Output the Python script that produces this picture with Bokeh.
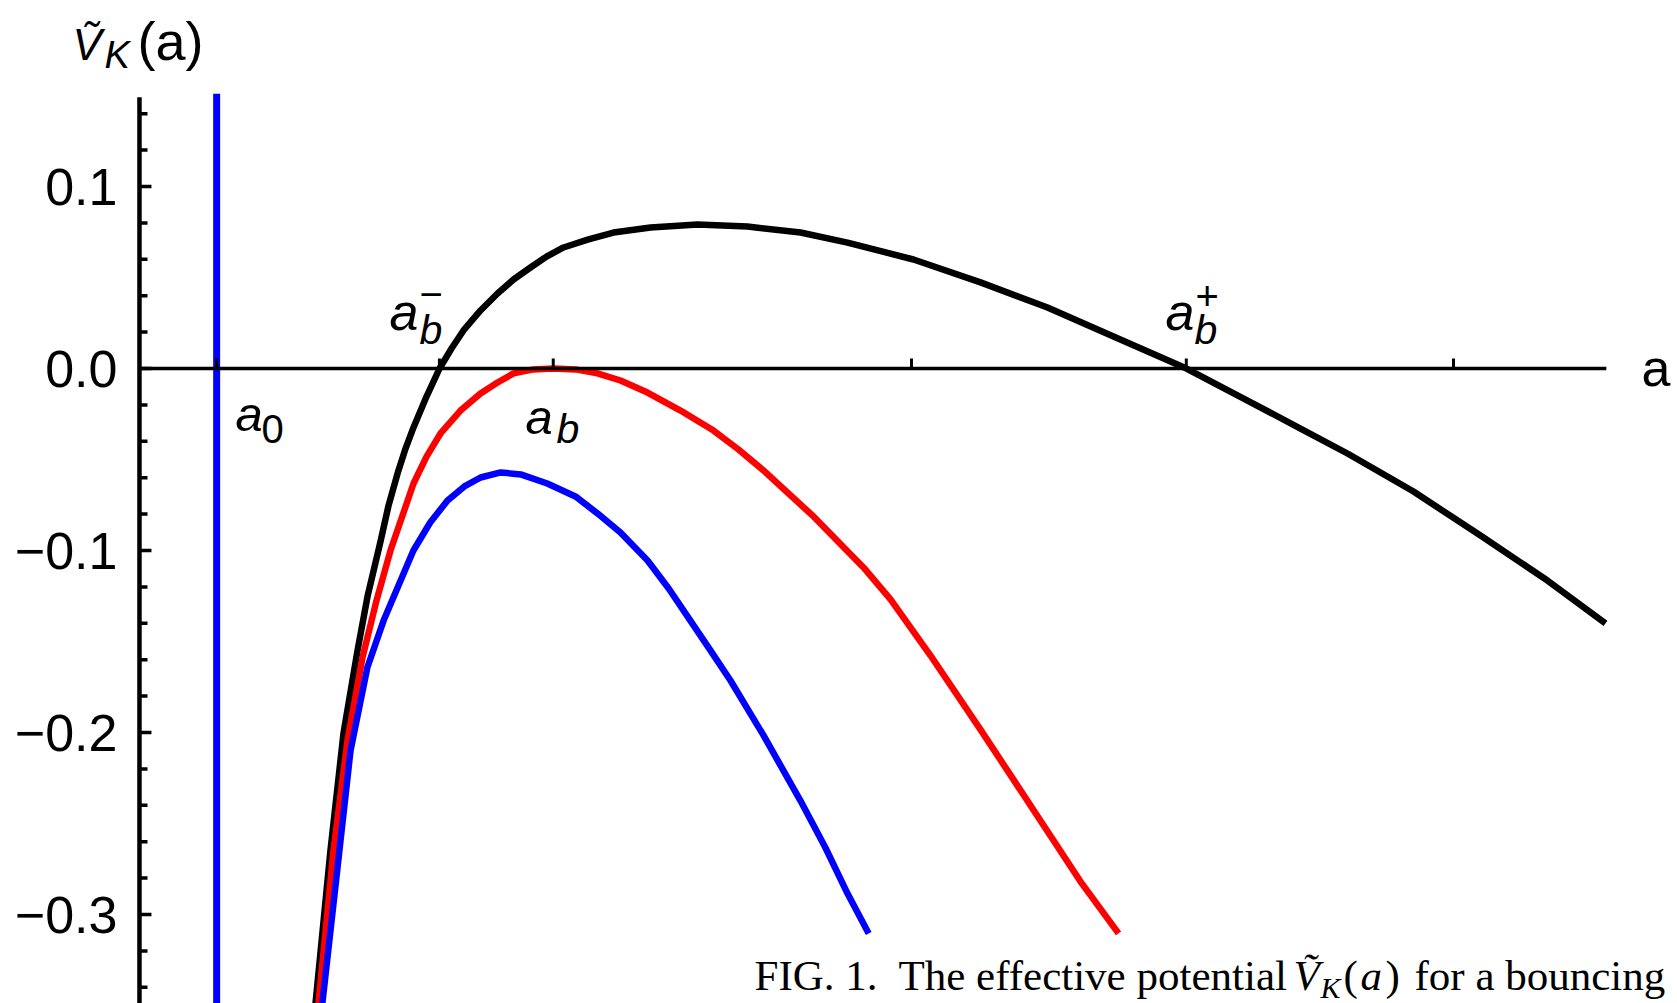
from bokeh.plotting import figure
from bokeh.models import Range1d
from bokeh.core.properties import value
from bokeh.embed import file_html
from bokeh.resources import INLINE

# ---------------- data ----------------
black_a = [0.9004, 0.9280, 0.9520, 0.9779, 0.9963, 1.0203, 1.0351, 1.0517, 1.0665, 1.0812, 1.1052, 1.1292,
           1.1513, 1.1734, 1.2048, 1.2362, 1.2657, 1.2970, 1.3266, 1.3579, 1.4041, 1.4502, 1.5185,
           1.6052, 1.6974, 1.7952, 1.8819, 2.0037, 2.1273, 2.2509, 2.3727, 2.5074, 2.6199, 2.7177,
           2.8044, 2.9262, 3.0498, 3.1734, 3.2804]
black_v = [-0.3489, -0.2648, -0.2005, -0.1549, -0.1253, -0.0951, -0.0753, -0.0577, -0.0440, -0.0324, -0.0154, 0.0,
           0.0110, 0.0209, 0.0319, 0.0412, 0.0489, 0.0555, 0.0615, 0.0665, 0.0709, 0.0747, 0.0775,
           0.0791, 0.0780, 0.0747, 0.0692, 0.0599, 0.0473, 0.0335, 0.0176, 0.0, -0.0176, -0.0330,
           -0.0467, -0.0676, -0.0918, -0.1165, -0.1401]

red_a = [0.9059, 0.9336, 0.9594, 0.9871, 1.0129, 1.0387, 1.0812, 1.1052, 1.1310, 1.1679, 1.2048,
         1.2362, 1.2657, 1.3026, 1.3395, 1.3801, 1.4207, 1.4631, 1.5129, 1.5738, 1.6347, 1.6808,
         1.7269, 1.8192, 1.9114, 1.9613, 2.0351, 2.1273, 2.2196, 2.3118, 2.3819]
red_v = [-0.3489, -0.2648, -0.2044, -0.1588, -0.1275, -0.1000, -0.0632, -0.0484, -0.0357, -0.0231, -0.0137,
         -0.0077, -0.0027, -0.0005, 0.0, -0.0005, -0.0027, -0.0066, -0.0132, -0.0231, -0.0341, -0.0445,
         -0.0560, -0.0813, -0.1093, -0.1269, -0.1577, -0.1984, -0.2401, -0.2819, -0.3104]

blue_a = [0.913, 0.941, 0.965, 0.996, 1.026, 1.081, 1.112, 1.144, 1.175, 1.205, 1.242, 1.279,
          1.328, 1.380, 1.421, 1.463, 1.513, 1.552, 1.592, 1.629, 1.666, 1.727, 1.795, 1.841,
          1.882, 1.921]
blue_v = [-0.3489, -0.2742, -0.2099, -0.1643, -0.1385, -0.1000, -0.0846, -0.0725, -0.0648, -0.0599, -0.0571, -0.0582,
          -0.0632, -0.0703, -0.0797, -0.0901, -0.1055, -0.1209, -0.1385, -0.1549, -0.1714, -0.2016, -0.2374, -0.2632,
          -0.2885, -0.3104]

a0 = 0.718
a_b_minus = 1.129
a_b = 1.339
a_b_plus = 2.507
x_tick_values = [a0, a_b_minus, a_b, 2.0, a_b_plus, 3.0]

y_major = [-0.3, -0.2, -0.1, 0.0, 0.1]
y_major_labels = ["\u22120.3", "\u22120.2", "\u22120.1", "0.0", "0.1"]
y_minor = [-0.34, -0.32, -0.28, -0.26, -0.24, -0.22, -0.18, -0.16, -0.14, -0.12,
           -0.08, -0.06, -0.04, -0.02, 0.02, 0.04, 0.06, 0.08, 0.12, 0.14]

X_START, X_END = 0.31919, 3.41328
Y_START, Y_END = -0.34890, 0.20220
Y_AXIS_X = 0.5756
Y_AXIS_TOP = 0.149
X_AXIS_END = 3.282
A0_LINE_TOP = 0.151
X_TICK_H = 0.0055
Y_MAJOR_LEN = 0.0221
Y_MINOR_LEN = 0.0148

SANS = "Liberation Sans"
SERIF = "Liberation Serif"


# pixel position of a text (left edge, baseline) -> data coordinates of this plot
def px_a(px):
    return 2 + (px - 911) / 542


def px_v(py):
    return (368 - py) / 1820


# ---------------- figure ----------------
p = figure(width=1677, height=1003,
           x_range=Range1d(X_START, X_END), y_range=Range1d(Y_START, Y_END),
           x_axis_type=None, y_axis_type=None, output_backend="svg", toolbar_location=None,
           min_border_left=0, min_border_right=0, min_border_top=0, min_border_bottom=0)
p.grid.visible = False
p.outline_line_color = None
p.background_fill_color = "white"
p.border_fill_color = "white"

# curves
p.line(black_a, black_v, line_color="black", line_width=6.5, line_join="round")
p.line(red_a, red_v, line_color="#ff0000", line_width=6.5, line_join="round")
p.line(blue_a, blue_v, line_color="#0000ff", line_width=6.5, line_join="round")
p.segment(x0=[a0], y0=[Y_START], x1=[a0], y1=[A0_LINE_TOP], line_color="#0000ff", line_width=7)

# y axis
p.segment(x0=[Y_AXIS_X], y0=[Y_START], x1=[Y_AXIS_X], y1=[Y_AXIS_TOP], line_color="black", line_width=4.5)
p.segment(x0=[Y_AXIS_X] * len(y_major), y0=y_major, x1=[Y_AXIS_X + Y_MAJOR_LEN] * len(y_major), y1=y_major,
          line_color="black", line_width=3.5)
p.segment(x0=[Y_AXIS_X] * len(y_minor), y0=y_minor, x1=[Y_AXIS_X + Y_MINOR_LEN] * len(y_minor), y1=y_minor,
          line_color="black", line_width=3.5)
p.text(x=[Y_AXIS_X] * len(y_major), y=y_major, text=y_major_labels, x_offset=-22,
       text_align="right", text_baseline="middle", text_font=value(SANS), text_font_size="52px",
       text_color="black")

# x axis drawn at V = 0
p.segment(x0=[Y_AXIS_X], y0=[0], x1=[X_AXIS_END], y1=[0], line_color="black", line_width=3.5)
p.segment(x0=x_tick_values, y0=[0] * len(x_tick_values), x1=x_tick_values,
          y1=[X_TICK_H] * len(x_tick_values), line_color="black", line_width=3)


def txt(text, px, py, size=52, style="italic", font=SANS):
    # py is the wanted baseline; texts are placed by their middle
    k = 0.347 if font == SANS else 0.338
    p.text(x=[px_a(px)], y=[px_v(py - k * size)], text=[text], text_font=value(font),
           text_font_style=style, text_font_size=f"{size}px", text_color="black",
           text_baseline="middle", text_align="left")


# tick labels on the a axis
txt("a", 235, 430, size=49)
txt("0", 261, 442, size=40, style="normal")
txt("a", 389, 330)
txt("b", 419, 344, size=41)
txt("\u2212", 419, 307, size=40, style="normal")
txt("a", 525, 433, size=49)
txt("b", 556, 443, size=41)
txt("a", 1165, 330)
txt("b", 1194, 344, size=41)
txt("+", 1195, 309, size=40, style="normal")

# axis titles
txt("V\u0303", 72, 59, size=44)
txt("K", 104, 68, size=38)
txt("(a)", 137, 59, size=54, style="normal")
txt("a", 1641, 386, size=52, style="normal")

# caption
txt("FIG. 1.", 754, 990, size=43, style="normal", font=SERIF)
txt("The effective potential", 898, 990, size=43, style="normal", font=SERIF)
txt("V\u0303", 1293, 990, size=43, style="italic", font=SERIF)
txt("K", 1320, 997, size=30, style="italic", font=SERIF)
txt("(", 1343, 990, size=43, style="normal", font=SERIF)
txt("a", 1360, 990, size=43, style="italic", font=SERIF)
txt(")", 1385, 990, size=43, style="normal", font=SERIF)
txt("for a bouncing", 1414, 990, size=43, style="normal", font=SERIF)

open("out.html", "w").write(file_html(p, INLINE))
